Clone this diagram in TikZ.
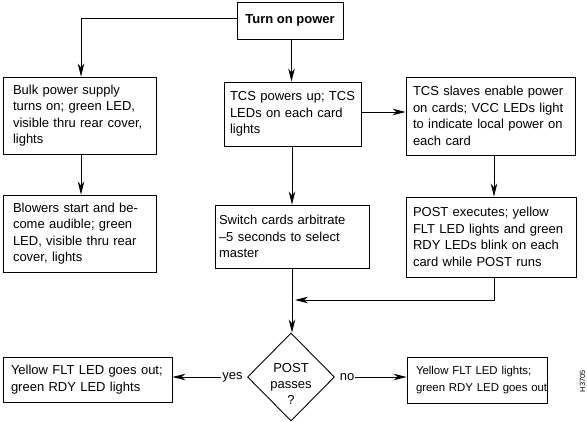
\documentclass[tikz,border=0pt]{standalone}
\usepackage{fontspec}
\setmainfont{Liberation Sans}
\usetikzlibrary{arrows.meta,shapes.geometric}
\begin{document}
\begin{tikzpicture}[x=1pt,y=-1pt,
  box/.style={draw,line width=0.9pt,rectangle,align=left,inner ysep=0pt,font=\fontsize{13}{16.5}\selectfont},
  arr/.style={line width=0.9pt,-{Stealth[length=13pt,width=6.5pt,inset=4pt]}},
  lbl/.style={font=\fontsize{13}{16}\selectfont,inner sep=1pt}]
\useasboundingbox (0,0) rectangle (587,422);

\node[draw,line width=0.9pt,minimum width=106pt,minimum height=37pt,font=\fontsize{13}{16}\selectfont\bfseries,inner sep=0pt] (turn) at (290,20.5) {Turn on power};

\node[box,minimum width=153pt,minimum height=77pt,text width=133pt,inner xsep=10pt] (bulk) at (79.5,115.5) {Bulk power supply\\turns on; green LED,\\visible thru rear cover,\\lights};

\node[box,minimum width=137pt,minimum height=64pt,text width=125pt,inner xsep=6pt] (tcs) at (292.5,114) {\mbox{TCS powers up; TCS}\\LEDs on each card\\lights};

\node[box,minimum width=169pt,minimum height=78pt,text width=155pt,inner xsep=7pt] (slaves) at (490.5,116) {TCS slaves enable power\\on cards; VCC LEDs light\\to indicate local power on\\each card};

\node[box,minimum width=153pt,minimum height=77pt,text width=133pt,inner xsep=10pt] (blowers) at (79.5,233.5) {Blowers start and be-\\come audible; green\\LED, visible thru rear\\cover, lights};

\node[box,minimum width=154pt,minimum height=63pt,text width=146pt,inner xsep=4pt] (switch) at (292,236.5) {Switch cards arbitrate\\--5 seconds to select\\master};

\node[box,minimum width=170pt,minimum height=80pt,text width=156pt,inner xsep=7pt] (post) at (491,237) {POST executes; yellow\\FLT LED lights and green\\RDY LEDs blink on each\\card while POST runs};

\node[draw,diamond,line width=0.9pt,minimum width=87pt,minimum height=88pt,inner sep=0pt] (dec) at (291,377) {};
\node[align=center,font=\fontsize{13}{16}\selectfont,inner sep=0pt] (dtext) at (291,384) {POST\\passes\\?};

\node[box,minimum width=169pt,minimum height=45pt,text width=153pt,inner xsep=8pt] (yesbox) at (87.5,379.5) {\mbox{Yellow FLT LED goes out;}\\green RDY LED lights};
\node[box,minimum width=140pt,minimum height=46pt,text width=122pt,inner xsep=9pt,font=\fontsize{11.4}{17}\selectfont] (nobox) at (477,380) {\mbox{Yellow FLT LED lights;}\\\mbox{green RDY LED goes out}};

\node[lbl] (yes) at (232.5,377) {yes};
\node[lbl] (no) at (347,377) {no};

\node[rotate=90,font=\fontsize{7.5}{8}\selectfont,inner sep=0pt] (code) at (582.5,381) {H3705};

\draw[arr] ([yshift=2.5pt]turn.west) -| ([xshift=1.5pt]bulk.north);
\draw[arr] ([xshift=1.5pt]turn.south) -- ([xshift=1.5pt]turn.south |- tcs.north);
\draw[arr] ([yshift=2pt]tcs.east) -- ([yshift=2pt]tcs.east -| slaves.west);
\draw[arr] ([xshift=1.5pt]bulk.south) -- ([xshift=1.5pt]blowers.north);
\draw[arr] ([xshift=-0.5pt]tcs.south) -- (switch.north);
\draw[arr] ([xshift=3.5pt]slaves.south) -- ([xshift=3.5pt]slaves.south |- post.north);
\coordinate (join) at (295,300);
\draw[arr] ([xshift=3pt]post.south) |- (join);
\draw[arr] (switch.south) -- (switch.south |- dec.north);
\draw[arr] (yes.west) -- (yes.west -| yesbox.east);
\draw[arr] (no.east) -- (no.east -| nobox.west);
\end{tikzpicture}
\end{document}
